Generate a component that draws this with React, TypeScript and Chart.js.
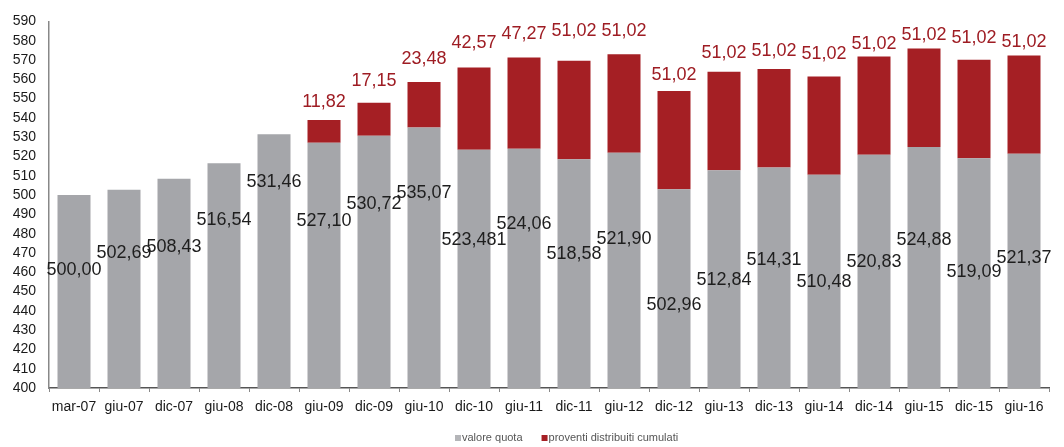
import React, { useEffect, useRef } from "react";
import { Chart, registerables } from "chart.js";

Chart.register(...registerables);

const categories = [
  "mar-07", "giu-07", "dic-07", "giu-08", "dic-08", "giu-09", "dic-09", "giu-10", "dic-10", "giu-11",
  "dic-11", "giu-12", "dic-12", "giu-13", "dic-13", "giu-14", "dic-14", "giu-15", "dic-15", "giu-16",
];

const valoreQuota = [
  500.0, 502.69, 508.43, 516.54, 531.46, 527.1, 530.72, 535.07, 523.481, 524.06,
  518.58, 521.9, 502.96, 512.84, 514.31, 510.48, 520.83, 524.88, 519.09, 521.37,
];

const proventiCumulati = [
  null, null, null, null, null, 11.82, 17.15, 23.48, 42.57, 47.27,
  51.02, 51.02, 51.02, 51.02, 51.02, 51.02, 51.02, 51.02, 51.02, 51.02,
];

// label anchors (in axis units)
const valoreLabelAt = [
  461, 469.8, 472.9, 486.8, 506.5, 486.3, 495.6, 501.3, 476.5, 484.8,
  469.3, 477, 442.9, 455.8, 466.1, 454.8, 465.1, 476.5, 460, 467.2,
];
const proventiLabelAt = [
  null, null, null, null, null, 548.0, 559.2, 570.5, 578.8, 583.5,
  585.0, 585.0, 562.3, 573.6, 574.7, 573.1, 578.3, 582.9, 581.4, 579.3,
];

const seriesNames = ["valore quota", "proventi distribuiti cumulati"];
const yMin = 400;
const yMax = 590;
const yStep = 10;

const GRAY = "#a5a6aa";
const RED = "#a51f24";
const FONT = "'Liberation Sans', Arial, sans-serif";

function fmt(n: number): string {
  let s = n.toFixed(3);
  if (s.endsWith("0")) s = s.slice(0, -1);
  return s.replace(".", ",");
}

const labelsPlugin = {
  id: "valueLabels",
  afterDatasetsDraw(chart: any) {
    const ctx = chart.ctx;
    const y = chart.scales.y;
    const m0 = chart.getDatasetMeta(0);
    const m1 = chart.getDatasetMeta(1);
    ctx.save();
    ctx.font = `18px ${FONT}`;
    ctx.textAlign = "center";
    ctx.textBaseline = "middle";
    valoreQuota.forEach((v, i) => {
      const bar = m0.data[i];
      ctx.fillStyle = "#1e1e1e";
      ctx.fillText(fmt(v), bar.x, y.getPixelForValue(valoreLabelAt[i]));
      const p = proventiCumulati[i];
      const at = proventiLabelAt[i];
      if (p != null && at != null) {
        ctx.fillStyle = "#9e1c23";
        ctx.fillText(fmt(p), m1.data[i].x, y.getPixelForValue(at));
      }
    });
    ctx.restore();
  },
  afterDraw(chart: any) {
    const ctx = chart.ctx;
    ctx.save();
    ctx.font = `11px ${FONT}`;
    ctx.textBaseline = "middle";
    const cy = 438;
    let x = 455;
    const colors = ["#b4b5b8", RED];
    seriesNames.forEach((name, i) => {
      ctx.fillStyle = colors[i];
      ctx.fillRect(x, cy - 3, 6, 6);
      x += 7;
      ctx.fillStyle = "#555";
      ctx.fillText(name, x, cy);
      x += ctx.measureText(name).width + 19;
    });
    ctx.restore();
  },
};

export default function App() {
  const ref = useRef<HTMLCanvasElement | null>(null);
  useEffect(() => {
    if (!ref.current) return;
    const chart = new Chart(ref.current, {
      type: "bar",
      data: {
        labels: categories,
        datasets: [
          {
            label: seriesNames[0],
            data: valoreQuota,
            backgroundColor: GRAY,
            barPercentage: 0.66,
            categoryPercentage: 1,
          },
          {
            label: seriesNames[1],
            data: proventiCumulati as any,
            backgroundColor: RED,
            barPercentage: 0.66,
            categoryPercentage: 1,
          },
        ],
      },
      options: {
        responsive: false,
        animation: false,
        devicePixelRatio: 1,
        layout: { padding: { top: 20, right: 15, left: 0, bottom: 0 } },
        plugins: {
          legend: { display: false },
          tooltip: { enabled: false },
        },
        scales: {
          x: {
            stacked: true,
            grid: {
              display: true,
              drawOnChartArea: false,
              drawTicks: true,
              tickLength: 4,
              tickColor: "#888",
              offset: true,
            },
            border: { display: true, color: "#555", width: 1.5 },
            ticks: {
              color: "#1a1a1a",
              font: { family: FONT, size: 14 },
              padding: 7,
              maxRotation: 0,
              autoSkip: false,
            },
            afterFit: (s: any) => {
              s.height = 59;
            },
          },
          y: {
            stacked: true,
            min: yMin,
            max: yMax,
            grid: { display: false, drawTicks: false },
            border: { display: true, color: "#888", width: 1.5 },
            ticks: {
              stepSize: yStep,
              autoSkip: false,
              color: "#1a1a1a",
              font: { family: FONT, size: 14 },
              padding: 13,
            },
            afterFit: (s: any) => {
              s.width = 49;
            },
          },
        },
      },
      plugins: [labelsPlugin],
    });
    return () => chart.destroy();
  }, []);
  return (
    <div style={{ position: "absolute", left: 0, top: 0, width: 1064, height: 447, background: "#fff" }}>
      <canvas ref={ref} width={1064} height={447} />
    </div>
  );
}
